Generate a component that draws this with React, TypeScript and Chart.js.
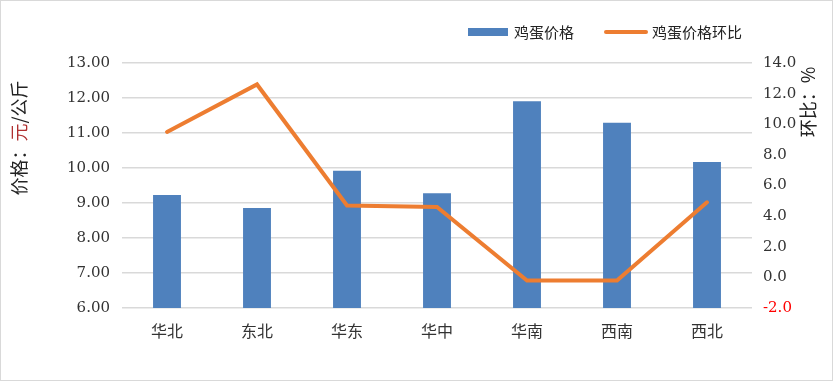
import React, { useEffect, useRef } from "react";
import { Chart, registerables } from "chart.js";

Chart.register(...registerables);

const categories = ["华北", "东北", "华东", "华中", "华南", "西南", "西北"];
const priceValues = [9.23, 8.86, 9.92, 9.28, 11.91, 11.29, 10.17];
const momValues = [9.5, 12.6, 4.7, 4.6, -0.2, -0.2, 4.9];
const priceLabel = "鸡蛋价格";
const momLabel = "鸡蛋价格环比";
const leftTitleParts = [
  { text: "价格：", color: "#222222" },
  { text: "元", color: "#b03030" },
  { text: "/公斤", color: "#222222" },
];
const rightTitle = "环比：%";

const BAR_COLOR = "#4f81bd";
const LINE_COLOR = "#ed7d31";
const CJK = "'Noto Sans CJK SC', sans-serif";
const NUM = "'DejaVu Serif', serif";

const decorPlugin = {
  id: "decor",
  beforeDraw(chart: any) {
    const ctx = chart.ctx;
    ctx.save();
    ctx.fillStyle = "#ffffff";
    ctx.fillRect(0, 0, chart.width, chart.height);
    ctx.restore();
  },
  afterDraw(chart: any) {
    const ctx = chart.ctx;
    ctx.save();
    // outer border
    ctx.strokeStyle = "#d9d9d9";
    ctx.lineWidth = 1;
    ctx.strokeRect(0.5, 0.5, chart.width - 1, chart.height - 1);

    // legend
    ctx.font = `15px ${CJK}`;
    ctx.textBaseline = "middle";
    ctx.textAlign = "left";
    ctx.fillStyle = BAR_COLOR;
    ctx.fillRect(468, 28, 40, 8);
    ctx.fillStyle = "#222222";
    ctx.fillText(priceLabel, 514, 32);
    ctx.strokeStyle = LINE_COLOR;
    ctx.lineWidth = 4;
    ctx.lineCap = "round";
    ctx.beginPath();
    ctx.moveTo(606, 32);
    ctx.lineTo(646, 32);
    ctx.stroke();
    ctx.fillStyle = "#222222";
    ctx.fillText(momLabel, 652, 32);

    // left title
    ctx.save();
    ctx.font = `18px ${CJK}`;
    ctx.translate(19, 138);
    ctx.rotate(-Math.PI / 2);
    const total = leftTitleParts.reduce((s, p) => s + ctx.measureText(p.text).width, 0);
    let x = -total / 2;
    for (const p of leftTitleParts) {
      ctx.fillStyle = p.color;
      ctx.fillText(p.text, x, 0);
      x += ctx.measureText(p.text).width;
    }
    ctx.restore();

    // right title
    ctx.save();
    ctx.font = `18px ${CJK}`;
    ctx.translate(808, 102);
    ctx.rotate(-Math.PI / 2);
    ctx.textAlign = "center";
    ctx.fillStyle = "#222222";
    ctx.fillText(rightTitle, 0, 0);
    ctx.restore();

    ctx.restore();
  },
};

export default function App() {
  const canvasRef = useRef<HTMLCanvasElement | null>(null);

  useEffect(() => {
    const canvas = canvasRef.current;
    if (!canvas) return;
    const chart = new Chart(canvas, {
      type: "bar",
      data: {
        labels: categories,
        datasets: [
          {
            type: "line",
            label: momLabel,
            data: momValues,
            yAxisID: "y1",
            borderColor: LINE_COLOR,
            backgroundColor: LINE_COLOR,
            borderWidth: 4,
            pointRadius: 0,
            tension: 0,
            borderCapStyle: "round",
            order: 0,
          } as any,
          {
            type: "bar",
            label: priceLabel,
            data: priceValues,
            yAxisID: "y",
            backgroundColor: BAR_COLOR,
            barPercentage: 0.31,
            categoryPercentage: 1,
            order: 1,
          },
        ],
      },
      options: {
        responsive: false,
        animation: false,
        layout: { padding: { top: 63, left: 0, right: 0, bottom: 0 } },
        plugins: {
          legend: { display: false },
          tooltip: { enabled: false },
          title: { display: false },
        },
        scales: {
          x: {
            offset: true,
            grid: { display: false },
            border: { display: false },
            ticks: {
              color: "#333333",
              font: { family: CJK, size: 16 },
              padding: 5,
              maxRotation: 0,
            },
            afterFit(scale: any) {
              scale.height = 73;
            },
          },
          y: {
            position: "left",
            min: 6,
            max: 13,
            grid: { color: "#d9d9d9", lineWidth: 1.5, drawTicks: false },
            border: { display: false },
            ticks: {
              stepSize: 1,
              color: "#333333",
              font: { family: NUM, size: 15 },
              padding: 12,
              callback: (v: any) => Number(v).toFixed(2),
            },
            afterFit(scale: any) {
              scale.width = 122;
            },
          },
          y1: {
            position: "right",
            min: -2,
            max: 14,
            grid: { drawOnChartArea: false, drawTicks: false },
            border: { display: false },
            ticks: {
              stepSize: 2,
              font: { family: NUM, size: 15 },
              padding: 11,
              color: (c: any) => (c.tick && c.tick.value < 0 ? "#ff0000" : "#333333"),
              callback: (v: any) => Number(v).toFixed(1),
            },
            afterFit(scale: any) {
              scale.width = 81;
            },
          },
        },
      },
      plugins: [decorPlugin],
    });
    return () => chart.destroy();
  }, []);

  return (
    <div style={{ position: "fixed", left: 0, top: 0, width: 833, height: 381, background: "#fff" }}>
      <canvas ref={canvasRef} width={833} height={381} style={{ display: "block", width: 833, height: 381 }} />
    </div>
  );
}
